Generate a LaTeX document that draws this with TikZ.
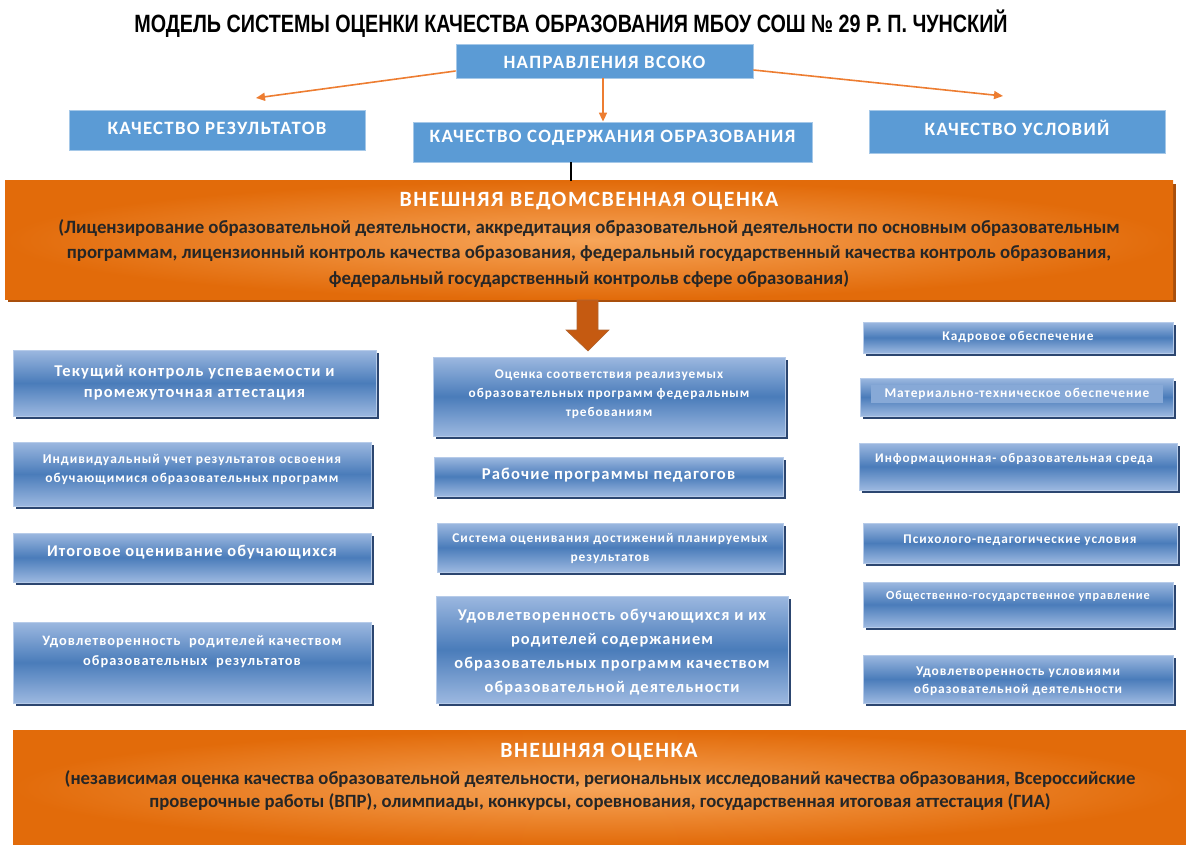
\documentclass[tikz,border=0pt]{standalone}
\usepackage{fontspec}
\setmainfont{Carlito}
\newfontfamily\titlefont[FakeStretch=0.79]{Liberation Sans}
\newfontfamily\boxfont[LetterSpace=7]{Carlito}
\usetikzlibrary{arrows.meta,shadows}
\definecolor{topblue}{HTML}{5B9BD5}
\definecolor{arrorange}{HTML}{ED7D31}
\definecolor{orout}{HTML}{E26B0A}
\definecolor{orin}{HTML}{F7A559}
\definecolor{orshadow}{HTML}{A94F0C}
\definecolor{blight}{HTML}{9CB8E0}
\definecolor{bmid}{HTML}{4A7CBA}
\definecolor{bshadow}{HTML}{2C4670}
\definecolor{bedge}{HTML}{B6CBE9}
\definecolor{blockarr}{HTML}{C55A11}
\newcommand{\fs}[2]{\fontsize{#1}{#2}\selectfont}
\tikzset{
  topbox/.style={fill=topblue, draw=topblue!55!white, line width=0.8pt, inner sep=0pt},
  toptxt/.style={text=white, font=\boxfont\bfseries\fs{18.8}{20}, inner sep=0pt},
  orarrow/.style={draw=arrorange, line width=1.6pt, -{Triangle[length=9pt,width=8pt]}},
  orangebox/.style={inner color=orin, outer color=orout, inner sep=0pt,
    drop shadow={shadow xshift=3pt, shadow yshift=-3pt, fill=orshadow, opacity=1}},
  bluebox/.style={top color=blight, bottom color=blight, middle color=bmid,
    draw=bedge, line width=0.8pt, inner sep=0pt,
    drop shadow={shadow xshift=3pt, shadow yshift=-3pt, fill=bshadow, opacity=1}},
  boxtxt/.style={text=white, align=center, inner sep=0pt},
  darktxt/.style={text=black!85, align=center, inner sep=0pt}
}
\begin{document}
\begin{tikzpicture}[x=1pt,y=-1pt]
	\useasboundingbox (0,0) rectangle (1186,845);
	% Title
	\node[inner sep=0pt] (title) at (571,24) {\titlefont\bfseries\fs{25}{30}МОДЕЛЬ СИСТЕМЫ ОЦЕНКИ КАЧЕСТВА ОБРАЗОВАНИЯ МБОУ СОШ № 29 Р. П. ЧУНСКИЙ};
	% Directions
	\node[topbox, minimum width=297, minimum height=34] (vsoko) at (604.5,61) {};
	\node[toptxt] (vsokoT) at (604.5,62) {НАПРАВЛЕНИЯ ВСОКО};
	\node[topbox, minimum width=296, minimum height=40] (kres) at (217,130) {};
	\node[toptxt] (kresT) at (217,128) {КАЧЕСТВО РЕЗУЛЬТАТОВ};
	\node[topbox, minimum width=399, minimum height=40] (ksod) at (612.5,142) {};
	\node[toptxt] (ksodT) at (612.5,138) {КАЧЕСТВО СОДЕРЖАНИЯ ОБРАЗОВАНИЯ};
	\node[topbox, minimum width=296, minimum height=43] (kusl) at (1017,131.5) {};
	\node[toptxt] (kuslT) at (1017,128) {КАЧЕСТВО УСЛОВИЙ};
	\coordinate (kresTip) at (256,98);
	\coordinate (kuslTip) at (1003,96);
	% Arrows from the directions box
	\draw[orarrow] ([yshift=-10pt]vsoko.west) -- (kresTip);
	\draw[orarrow] ([xshift=-1.5pt]vsoko.south) -- ([xshift=-1.5pt]vsoko.south |- ksod.north);
	\draw[orarrow] ([yshift=-9pt]vsoko.east) -- (kuslTip);
	% External departmental assessment
	\node[orangebox, minimum width=1168, minimum height=118] (ved) at (589,240) {};
	\draw[black, line width=1.4pt] ([xshift=-41.5pt]ksod.south) -- ([xshift=-41.5pt]ksod.south |- ved.north);
	\node[boxtxt, font=\boxfont\bfseries\fs{21.8}{24}] (vedT) at (589,201) {ВНЕШНЯЯ ВЕДОМСВЕННАЯ ОЦЕНКА};
	\node[darktxt, font=\bfseries\fs{18.8}{25.5}] (vedB) at (589,253.5) {(Лицензирование образовательной деятельности, аккредитация образовательной деятельности по основным образовательным\\
		программам, лицензионный контроль качества образования, федеральный государственный качества контроль образования,\\
		федеральный государственный контрольв сфере образования)};
	% Block arrow
	\draw[fill=blockarr, draw=blockarr!70!gray, line width=0.6pt] (577,300) -- (598,300) -- (598,330) -- (609,330) -- (588,351) -- (566,330) -- (577,330) -- cycle;
	% Results column
	\node[bluebox, minimum width=363, minimum height=66] (tek) at (194.5,383) {};
	\node[boxtxt, font=\boxfont\bfseries\fs{16.5}{21}] (tekT) at (194.5,382.5) {Текущий контроль успеваемости и\\ промежуточная аттестация};
	\node[bluebox, minimum width=358, minimum height=64] (ind) at (192,474) {};
	\node[boxtxt, font=\boxfont\bfseries\fs{13.5}{19}] (indT) at (192,469.5) {Индивидуальный учет результатов освоения\\ обучающимися образовательных программ};
	\node[bluebox, minimum width=358, minimum height=49] (itog) at (192,557.5) {};
	\node[boxtxt, font=\boxfont\bfseries\fs{16.4}{20}] (itogT) at (192,552) {Итоговое оценивание обучающихся};
	\node[bluebox, minimum width=358, minimum height=81] (udrod) at (192,662.5) {};
	\node[boxtxt, font=\boxfont\bfseries\fs{14.4}{20}] (udrodT) at (192,652) {Удовлетворенность~ родителей качеством\\ образовательных~ результатов};
	% Content column
	\node[bluebox, minimum width=352, minimum height=79] (ocen) at (609,396.5) {};
	\node[boxtxt, font=\boxfont\bfseries\fs{13.3}{19}] (ocenT) at (609,394) {Оценка соответствия реализуемых\\ образовательных программ федеральным\\ требованиям};
	\node[bluebox, minimum width=349, minimum height=39] (rab) at (608.5,476.5) {};
	\node[boxtxt, font=\boxfont\bfseries\fs{16.6}{20}] (rabT) at (608.5,475) {Рабочие программы педагогов};
	\node[bluebox, minimum width=346, minimum height=49] (sist) at (610,547.5) {};
	\node[boxtxt, font=\boxfont\bfseries\fs{13.4}{19}] (sistT) at (610,548.5) {Система оценивания достижений планируемых\\ результатов};
	\node[bluebox, minimum width=352, minimum height=107] (udob) at (612,649.5) {};
	\node[boxtxt, font=\boxfont\bfseries\fs{16.4}{24}] (udobT) at (612,652) {Удовлетворенность обучающихся и их\\ родителей содержанием\\ образовательных программ качеством\\ образовательной деятельности};
	% Conditions column
	\node[bluebox, minimum width=310, minimum height=31] (kadr) at (1018,337.5) {};
	\node[boxtxt, font=\boxfont\bfseries\fs{13.3}{16}] (kadrT) at (1018,337) {Кадровое обеспечение};
	\node[bluebox, minimum width=313, minimum height=38] (mat) at (1016.5,397) {};
	\node[boxtxt, font=\boxfont\bfseries\fs{13.4}{16}, fill=blight!75!bmid, minimum width=292, minimum height=18] (matT) at (1017,394) {Материально-техническое обеспечение};
	\node[bluebox, minimum width=318, minimum height=47] (info) at (1018,466.5) {};
	\node[boxtxt, font=\boxfont\bfseries\fs{13.2}{16}] (infoT) at (1014,459) {Информационная- образовательная среда};
	\node[bluebox, minimum width=314, minimum height=40] (psih) at (1020,543) {};
	\node[boxtxt, font=\boxfont\bfseries\fs{13.3}{16}] (psihT) at (1020,540) {Психолого-педагогические условия};
	\node[bluebox, minimum width=310, minimum height=45] (obsh) at (1018,604.5) {};
	\node[boxtxt, font=\boxfont\bfseries\fs{12.3}{15}] (obshT) at (1018,596) {Общественно-государственное управление};
	\node[bluebox, minimum width=310, minimum height=48] (udusl) at (1018,679) {};
	\node[boxtxt, font=\boxfont\bfseries\fs{13.4}{18}] (udusT) at (1018,681) {Удовлетворенность условиями\\ образовательной деятельности};
	% External assessment
	\node[inner color=orin, outer color=orout, inner sep=0pt, minimum width=1173, minimum height=115] (vnesh) at (599.5,787.5) {};
	\node[boxtxt, font=\boxfont\bfseries\fs{21.8}{24}] (vneshT) at (599,752) {ВНЕШНЯЯ ОЦЕНКА};
	\node[darktxt, font=\bfseries\fs{18.7}{23}] (vneshB) at (600,790.5) {(независимая оценка качества образовательной деятельности, региональных исследований качества образования, Всероссийские\\
		проверочные работы (ВПР), олимпиады, конкурсы, соревнования, государственная итоговая аттестация (ГИА)};
\end{tikzpicture}
\end{document}
